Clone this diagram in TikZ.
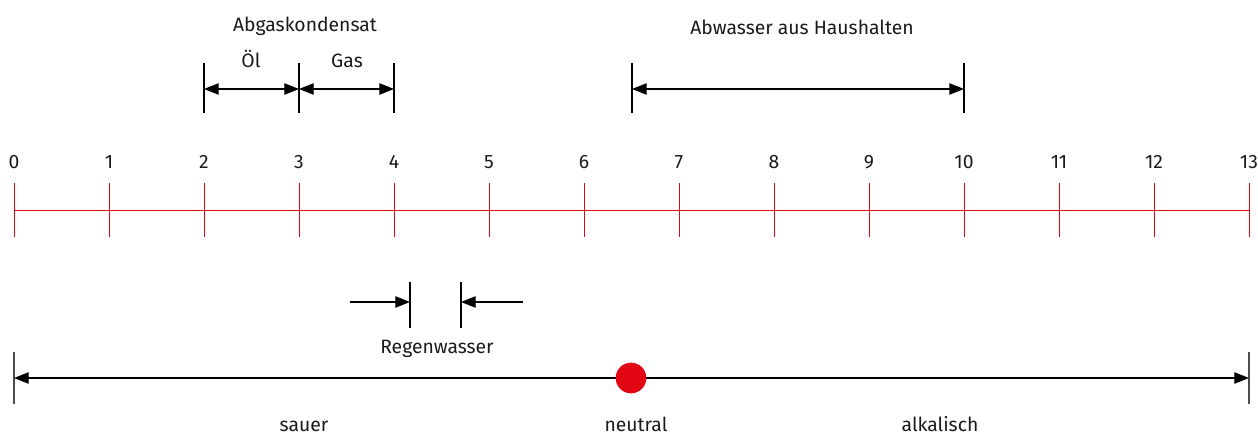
\documentclass[tikz,border=0pt]{standalone}
\usepackage{fontspec}
\setmainfont{Fira Sans}
\usetikzlibrary{arrows.meta}
\definecolor{axred}{HTML}{E30613}
\definecolor{txt}{HTML}{1A1A1A}
\begin{document}
\begin{tikzpicture}[x=0.75pt,y=-0.75pt,
  lbl/.style={text=txt,font=\fontsize{14.5}{17}\selectfont,inner sep=0pt,anchor=base},
  bar/.style={draw=black,line width=0.9pt},
  dim/.style={draw=black,line width=0.9pt,{Triangle[length=11pt,width=8.5pt]}-{Triangle[length=11pt,width=8.5pt]}},
  onearrow/.style={draw=black,line width=0.9pt,-{Triangle[length=11pt,width=8.5pt]}},
  tick/.style={draw=axred,line width=0.7pt}]
\useasboundingbox (0,0) rectangle (1258,435);
% scale
\draw[tick] (14,210) coordinate (a0) -- (1249,210) coordinate (a13);
\foreach \n in {0,...,13}{
  \pgfmathsetmacro{\xx}{14+95*\n}
  \draw[tick] (\xx,183) -- (\xx,237);
  \node[lbl] (n\n) at (\xx,168) {\n};
}
% Abgaskondensat
\node[lbl] (abg) at (305,32) {Abgaskondensat};
\node[lbl] (oel) at (251,68) {Öl};
\node[lbl] (gas) at (347,68) {Gas};
\foreach \x/\nm in {204/b2,299/b3,394/b4,632/b65,964/b10}{
  \draw[bar] (\x,63) -- (\x,113);
  \coordinate (\nm) at (\x,89);
}
\draw[dim] (b2) -- (b3);
\draw[dim] (b3) -- (b4);
% Abwasser
\node[lbl] (abw) at (802,35) {Abwasser aus Haushalten};
\draw[dim] (b65) -- (b10);
% Regenwasser
\draw[bar] (410,282) -- (410,328);
\draw[bar] (461,282) -- (461,328);
\coordinate (r1) at (350,302); \coordinate (r2) at (410,302);
\coordinate (r3) at (523,302); \coordinate (r4) at (461,302);
\draw[onearrow] (r1) -- (r2);
\draw[onearrow] (r3) -- (r4);
\node[lbl] (reg) at (437,353) {Regenwasser};
% bottom
\draw[draw=black!70,line width=1.1pt] (14,352) -- (14,404);
\draw[draw=black!70,line width=1.1pt] (1249,352) -- (1249,404);
\coordinate (s1) at (14,378); \coordinate (s2) at (1249,378);
\draw[dim] (s1) -- (s2);
\node[circle,fill=axred,minimum size=23pt,inner sep=0pt] (dot) at (631,378) {};
\node[lbl] (sauer) at (304,431) {sauer};
\node[lbl] (neutral) at (636,431) {neutral};
\node[lbl] (alk) at (940,431) {alkalisch};
\end{tikzpicture}
\end{document}
